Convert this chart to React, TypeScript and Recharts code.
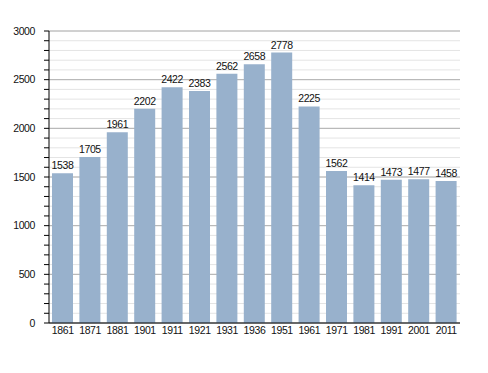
import React from 'react';
import { BarChart, Bar, XAxis, YAxis, CartesianGrid, LabelList } from 'recharts';

const years = ['1861', '1871', '1881', '1901', '1911', '1921', '1931', '1936', '1951', '1961', '1971', '1981', '1991', '2001', '2011'];
const population = [1538, 1705, 1961, 2202, 2422, 2383, 2562, 2658, 2778, 2225, 1562, 1414, 1473, 1477, 1458];
const minorTicks = Array.from({ length: 31 }, (_, i) => i * 100);
const majorTicks = [0, 500, 1000, 1500, 2000, 2500, 3000];
const yMax = 3000;

const data = years.map((y, i) => ({ year: y, pop: population[i] }));

const font = 'Arial, "Liberation Sans", sans-serif';
const textStyle = { fontSize: 10.5, fill: '#111', fontFamily: font, letterSpacing: -0.4 };

const majorGen = (props: any) => {
  const { yAxis, offset } = props || {};
  const s = yAxis && yAxis.scale;
  return majorTicks.map((t) => {
    if (typeof s === 'function') return s(t);
    if (s && typeof s.map === 'function') return s.map(t);
    return offset.top + offset.height * (1 - t / yMax);
  });
};

export default function App() {
  return (
    <div style={{ position: 'absolute', left: 0, top: 0 }}>
      <BarChart
        width={488}
        height={373}
        data={data}
        margin={{ top: 31, right: 28, bottom: 30, left: 0 }}
        barSize={21}
      >
        <CartesianGrid vertical={false} stroke="#e4e4e4" strokeWidth={1} />
        <CartesianGrid
          vertical={false}
          stroke="#b0b0b0"
          strokeWidth={1}
          horizontalCoordinatesGenerator={majorGen}
        />
        <XAxis
          dataKey="year"
          axisLine={{ stroke: '#000' }}
          tickLine={false}
          tickSize={0}
          tickMargin={4}
          height={20}
          interval={0}
          tick={textStyle}
        />
        <YAxis
          width={49}
          domain={[0, yMax]}
          ticks={minorTicks}
          interval={0}
          axisLine={{ stroke: '#000' }}
          tickLine={{ stroke: '#000' }}
          tickSize={5}
          tickMargin={9}
          tickFormatter={(v: number) => (v % 500 === 0 ? String(v) : '')}
          tick={textStyle}
        />
        <Bar dataKey="pop" fill="#98b1cc" isAnimationActive={false}>
          <LabelList dataKey="pop" position="top" offset={4} style={textStyle} />
        </Bar>
      </BarChart>
    </div>
  );
}
